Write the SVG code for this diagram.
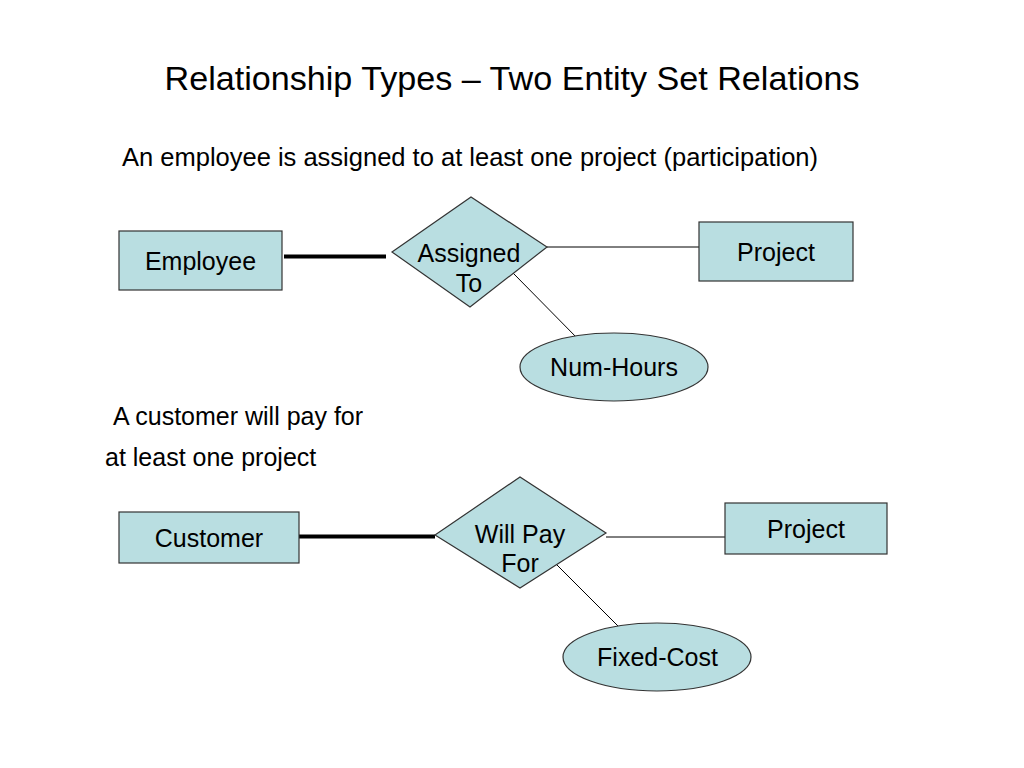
<svg xmlns="http://www.w3.org/2000/svg" width="1024" height="768" viewBox="0 0 1024 768">
<style>
  text { font-family: "Liberation Sans", Arial, sans-serif; fill: #000; }
  .shape { fill: #b9dee1; stroke: #333; stroke-width: 1.2; }
  .lbl { font-size: 25px; text-anchor: middle; }
  .body { font-size: 25px; }
  .thin { stroke: #000; stroke-width: 1; fill: none; }
  .thick { stroke: #000; stroke-width: 4; fill: none; }
</style>
<rect width="1024" height="768" fill="#fff"/>
<text x="512" y="90" font-size="33" text-anchor="middle" textLength="695" lengthAdjust="spacingAndGlyphs">Relationship Types – Two Entity Set Relations</text>
<text class="body" x="122" y="166" textLength="696" lengthAdjust="spacingAndGlyphs">An employee is assigned to at least one project (participation)</text>
<text class="body" x="113" y="425">A customer will pay for</text>
<text class="body" x="105" y="466">at least one project</text>

<g id="connectors">
  <line class="thick" x1="284" y1="256.5" x2="386" y2="256.5"/>
  <line class="thin" x1="547" y1="247" x2="699" y2="247"/>
  <line class="thin" x1="513" y1="273" x2="580" y2="341"/>
  <line class="thick" x1="299" y1="536.5" x2="435" y2="536.5"/>
  <line class="thin" x1="606" y1="537" x2="725" y2="537"/>
  <line class="thin" x1="555" y1="563" x2="623" y2="631"/>
</g>

<g id="employee">
  <rect class="shape" x="119" y="231" width="163" height="59"/>
  <text class="lbl" x="200.5" y="270">Employee</text>
</g>
<g id="assigned-to">
  <polygon class="shape" points="392,252 471,197 547,247 470,307"/>
  <text class="lbl" x="469" y="262">Assigned</text>
  <text class="lbl" x="469" y="292">To</text>
</g>
<g id="project-1">
  <rect class="shape" x="699" y="222" width="154" height="59"/>
  <text class="lbl" x="776" y="261">Project</text>
</g>
<g id="num-hours">
  <ellipse class="shape" cx="614" cy="367" rx="94" ry="34"/>
  <text class="lbl" x="614" y="376">Num-Hours</text>
</g>
<g id="customer">
  <rect class="shape" x="119" y="512" width="180" height="51"/>
  <text class="lbl" x="209" y="547">Customer</text>
</g>
<g id="will-pay-for">
  <polygon class="shape" points="435,535 520,477 606,533 520,588"/>
  <text class="lbl" x="520" y="543">Will Pay</text>
  <text class="lbl" x="520" y="572">For</text>
</g>
<g id="project-2">
  <rect class="shape" x="725" y="503" width="162" height="51"/>
  <text class="lbl" x="806" y="538">Project</text>
</g>
<g id="fixed-cost">
  <ellipse class="shape" cx="657" cy="657" rx="94" ry="34"/>
  <text class="lbl" x="657.5" y="666">Fixed-Cost</text>
</g>
</svg>
